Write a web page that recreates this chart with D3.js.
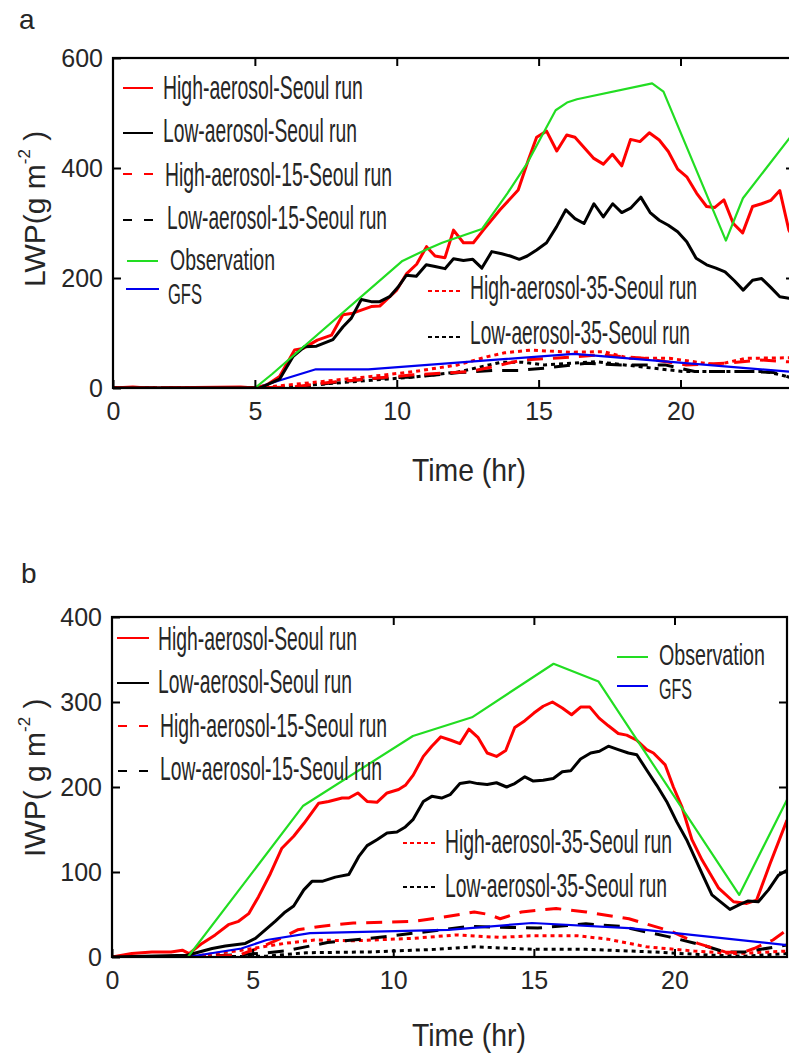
<!DOCTYPE html>
<html>
<head>
<meta charset="utf-8">
<script src="https://cdn.jsdelivr.net/npm/d3@7"></script>
<style>
  html, body { margin: 0; padding: 0; background: #fff; }
  svg { display: block; }
</style>
</head>
<body>
<svg id="chart" width="789" height="1057"></svg>
<script>
// ---------------- DATA ----------------
const xTicks = [0, 5, 10, 15, 20];
const lwpTicks = [0, 200, 400, 600];
const iwpTicks = [0, 100, 200, 300, 400];

const seriesLabels = [
  "High-aerosol-Seoul run", "Low-aerosol-Seoul run",
  "High-aerosol-15-Seoul run", "Low-aerosol-15-Seoul run",
  "Observation", "GFS",
  "High-aerosol-35-Seoul run", "Low-aerosol-35-Seoul run"
];

// Panel a : LWP (g m-2) vs time (hr), [hour, value]
const lwpHighSeoul = [[0,0],[0.7,2],[1.2,0],[4.5,2],[5.0,0],[5.4,5],[5.87,21],[6.4,69],[6.7,72],[7.2,87],[7.7,96],[8.1,133],[8.45,136],[9.1,148],[9.4,149],[10.0,178],[10.35,208],[10.7,225],[11.05,257],[11.35,240],[11.7,237],[12.0,287],[12.35,264],[12.7,264],[13.05,287],[13.64,324],[14.28,360],[14.64,415],[14.93,456],[15.28,467],[15.64,431],[15.99,460],[16.28,456],[16.93,418],[17.28,407],[17.6,425],[17.93,404],[18.24,452],[18.57,448],[18.9,464],[19.25,451],[19.57,430],[19.9,398],[20.22,384],[20.57,354],[20.92,330],[21.2,328],[21.53,342],[21.86,299],[22.19,282],[22.54,330],[22.86,335],[23.18,341],[23.5,359],[23.82,287],[24,272]];
const lwpLowSeoul = [[0,0],[5.17,0],[5.87,16],[6.34,57],[6.75,75],[7.17,76],[7.75,88],[8.1,111],[8.4,127],[8.75,161],[9.1,157],[9.4,157],[9.75,166],[10.04,183],[10.34,205],[10.69,203],[11.04,224],[11.35,221],[11.7,217],[12.0,235],[12.35,232],[12.68,234],[13.0,218],[13.35,248],[13.7,244],[14.0,240],[14.32,234],[14.6,240],[14.93,251],[15.28,264],[15.63,293],[15.96,324],[16.28,308],[16.6,299],[16.95,335],[17.28,311],[17.61,335],[17.93,319],[18.24,327],[18.6,347],[18.93,319],[19.25,305],[19.57,296],[19.9,284],[20.22,266],[20.55,236],[20.92,224],[21.25,218],[21.57,211],[21.9,195],[22.21,178],[22.54,196],[22.86,199],[23.18,183],[23.5,166],[23.82,163],[24,162]];
const lwpHigh15 = [[0,0],[5.0,0],[6.4,2],[7.6,10],[9.1,17],[10.6,24],[12.6,30],[13.5,40],[14.43,51],[15.8,55],[17.16,60],[18.7,54],[20.2,42],[21.57,45],[22.8,51],[24,47]];
const lwpLow15 = [[0,0],[5.0,0],[6.5,1],[7.8,10],[9.1,17],[10.6,20],[12.2,28],[13.4,32],[14.3,32],[15.2,36],[16.7,45],[17.9,42],[19.45,42],[20.5,30],[22.5,30],[23.3,28],[24,17]];
const lwpObs = [[5.0,0],[5.6,25],[10.2,231],[11.05,252],[11.6,264],[13.0,289],[13.9,354],[14.6,409],[15.6,505],[16.0,519],[16.35,525],[19.0,554],[19.4,539],[21.6,268],[22.2,345],[24,465]];
const lwpGFS = [[5.0,0],[7.15,34],[9.0,34],[16.25,62],[24,29]];
const lwpHigh35 = [[0,0],[5.0,0],[6.08,5],[7.6,13],[9.1,21],[10.63,30],[12.15,42],[13.2,57],[13.8,64],[14.73,69],[16.1,65],[17.3,66],[18.2,54],[19.6,54],[21.27,42],[22.3,54],[24,55]];
const lwpLow35 = [[0,0],[5.0,0],[6.1,2],[7.6,8],[9.1,14],[10.6,20],[12.15,29],[13.7,47],[14.4,47],[15.2,42],[17.0,48],[18.7,38],[20.1,30],[22.0,30],[23.0,30],[24,18]];

// Panel b : IWP (g m-2) vs time (hr)
const iwpHighSeoul = [[0,0],[0.7,4],[1.42,6],[2.1,6],[2.5,8],[2.74,4],[3.2,16],[3.67,26],[4.14,38],[4.5,42],[4.86,51],[5.21,71],[5.63,98],[6.04,128],[6.46,142],[6.82,157],[7.35,181],[7.7,183],[8.18,187],[8.42,187],[8.74,193],[9.07,183],[9.42,182],[9.78,193],[10.19,197],[10.43,202],[10.71,214],[11.07,236],[11.37,248],[11.69,259],[12.05,255],[12.37,251],[12.69,268],[13.02,258],[13.34,240],[13.67,236],[14.0,243],[14.32,270],[14.68,278],[15.0,287],[15.33,295],[15.66,300],[16.01,293],[16.34,285],[16.66,294],[16.99,294],[17.32,281],[17.65,272],[18.0,263],[18.3,261],[18.66,255],[19.01,244],[19.25,240],[19.67,226],[19.96,200],[20.26,177],[20.62,138],[20.98,114],[21.57,81],[22.1,65],[22.57,63],[22.92,67],[23.4,110],[24,161]];
const iwpLowSeoul = [[0,0],[2.67,2],[3.56,10],[4.03,13],[4.74,16],[5.1,22],[5.45,32],[5.8,42],[6.16,53],[6.46,60],[6.82,79],[7.11,89],[7.47,89],[7.94,94],[8.42,97],[8.77,118],[9.07,131],[9.42,138],[9.78,146],[10.13,147],[10.43,153],[10.71,162],[11.07,183],[11.37,189],[11.72,187],[12.02,191],[12.37,204],[12.71,206],[13.0,204],[13.34,203],[13.67,205],[14.03,200],[14.32,204],[14.68,212],[14.98,207],[15.33,208],[15.69,210],[16.01,218],[16.31,219],[16.66,233],[17.02,240],[17.33,242],[17.65,248],[18.0,244],[18.36,240],[18.66,238],[19.01,220],[19.37,202],[19.72,183],[20.08,159],[20.43,138],[20.98,98],[21.33,73],[21.97,56],[22.33,62],[22.62,66],[22.98,65],[23.34,79],[23.69,96],[24,102]];
const iwpHigh15 = [[0,0],[2.7,0],[4.5,2],[5.33,12],[6.0,22],[6.6,32],[7.4,36],[8.58,40],[10.73,42],[11.8,47],[12.88,53],[13.4,50],[13.8,45],[14.56,53],[15.79,57],[16.86,53],[18.38,45],[19.9,30],[20.83,16],[21.8,6],[22.4,5],[22.83,10],[23.5,20],[24,32]];
const iwpLow15 = [[0,0],[2.7,0],[4.7,3],[5.5,5],[6.13,7],[7.66,17],[9.19,22],[10.73,28],[12.72,36],[13.8,35],[15.14,34],[16.85,39],[18.08,36],[19.77,24],[21.0,14],[21.77,6],[22.5,6],[24,14]];
const iwpObs = [[2.7,0],[6.8,178],[10.7,260],[12.8,282],[15.7,345],[17.3,324],[22.3,73],[24,185]];
const iwpGFS = [[2.68,0],[4.6,10],[5.5,20],[7.04,28],[11.95,32],[14.93,40],[18.38,34],[24,14]];
const iwpHigh35 = [[0,0],[2.7,0],[4.6,8],[6.13,16],[7.2,20],[8.58,19],[10.73,22],[12.27,26],[13.8,23],[14.87,25],[16.55,25],[17.63,21],[19.0,12],[20.7,7],[22.2,4],[24,7]];
const iwpLow35 = [[0,0],[2.7,0],[5.5,1],[6.9,5],[9.2,6],[11.5,9],[12.88,12],[15.0,9],[16.86,9],[19.2,6],[21.4,2],[22.5,1],[24,4]];

// ---------------- STYLES ----------------
const RED = "#ff0000", BLACK = "#000000", GREEN = "#22dd22", BLUE = "#0000ee";
const TXT = "#262626";
const FONT = "'Liberation Sans Narrow','Liberation Sans',Arial,sans-serif";
const NUMFONT = "'Liberation Sans',Arial,sans-serif";

const styles = {
  high:   { color: RED,   width: 3,   dash: null },
  low:    { color: BLACK, width: 3,   dash: null },
  high15: { color: RED,   width: 3,   dash: "16,10" },
  low15:  { color: BLACK, width: 3,   dash: "16,10" },
  obs:    { color: GREEN, width: 2.2, dash: null },
  gfs:    { color: BLUE,  width: 2.2, dash: null },
  high35: { color: RED,   width: 3,   dash: "4,4" },
  low35:  { color: BLACK, width: 3,   dash: "4,4" }
};
const legendDash = { high15: "9,12", low15: "9,12", high35: "4,3", low35: "4,3" };

const svg = d3.select("#chart");

// place a text so that it spans exactly `width` px horizontally (squeezed font)
function fitText(parent, x, y, str, width, size, anchor) {
  const g = parent.append("g");
  const t = g.append("text")
    .attr("x", 0).attr("y", 0)
    .attr("font-family", FONT).attr("font-size", size)
    .attr("fill", TXT).text(str);
  const w = t.node().getComputedTextLength() || width;
  const sx = width / w;
  const x0 = anchor === "middle" ? x - width / 2 : x;
  g.attr("transform", `translate(${x0},${y}) scale(${sx},1)`);
  return g;
}

function drawPanel(p) {
  const x = d3.scaleLinear().domain([0, 24]).range([p.left, p.right]);
  const y = d3.scaleLinear().domain([0, p.ymax]).range([p.bottom, p.top]);
  const g = svg.append("g");

  const clipId = "clip" + p.name;
  svg.append("clipPath").attr("id", clipId).append("rect")
    .attr("x", p.left).attr("y", p.top - 2)
    .attr("width", p.right - p.left).attr("height", p.bottom - p.top + 2);

  const line = d3.line().x(d => x(d[0])).y(d => y(d[1]));
  const lines = g.append("g").attr("clip-path", `url(#${clipId})`);
  p.series.forEach(s => {
    const st = styles[s.key];
    lines.append("path")
      .datum(s.data)
      .attr("d", line)
      .attr("fill", "none")
      .attr("stroke", st.color)
      .attr("stroke-width", st.width)
      .attr("stroke-linejoin", "round")
      .attr("stroke-dasharray", st.dash);
  });

  // legends
  p.legend.forEach(L => {
    const st = styles[L.key];
    const lg = g.append("g");
    lg.append("line")
      .attr("x1", L.x1).attr("x2", L.x2).attr("y1", L.ly).attr("y2", L.ly)
      .attr("stroke", st.color).attr("stroke-width", 2)
      .attr("stroke-dasharray", legendDash[L.key] || null);
    fitText(lg, L.tx, L.ty, seriesLabels[L.idx], L.tw, L.fs || 34, "start");
  });

  // axes
  const axB = d3.axisBottom(x).tickValues(xTicks).tickSize(-8).tickSizeOuter(0).tickPadding(14);
  const axT = d3.axisTop(x).tickValues(p.topTicks).tickSize(-8).tickSizeOuter(0).tickFormat("");
  const axL = d3.axisLeft(y).tickValues(p.yTicks).tickSize(-8).tickSizeOuter(0).tickPadding(10);
  const axR = d3.axisRight(y).tickValues(p.rightTicks).tickSize(-8).tickSizeOuter(0).tickFormat("");

  const gB = g.append("g").attr("transform", `translate(0,${p.bottom})`).call(axB);
  const gT = g.append("g").attr("transform", `translate(0,${p.top})`).call(axT);
  const gL = g.append("g").attr("transform", `translate(${p.left},0)`).call(axL);
  const gR = g.append("g").attr("transform", `translate(${p.right},0)`).call(axR);
  [gB, gT, gL, gR].forEach(a => {
    a.select(".domain").remove();
    a.selectAll(".tick line").attr("stroke", "#000").attr("stroke-width", 2);
    a.selectAll(".tick text").attr("font-family", NUMFONT).attr("font-size", 25).attr("fill", TXT);
  });

  g.append("rect")
    .attr("x", p.left).attr("y", p.top)
    .attr("width", p.right - p.left).attr("height", p.bottom - p.top)
    .attr("fill", "none").attr("stroke", "#000").attr("stroke-width", 2.2);

  // x label
  fitText(g, p.xlabX, p.xlabY, "Time (hr)", 114, 32, "middle");

  // y label
  const yl = g.append("text")
    .attr("transform", `translate(45,${p.ylabY}) rotate(-90)`)
    .attr("font-family", NUMFONT).attr("font-size", 30).attr("fill", TXT);
  yl.append("tspan").text(p.ylabMain);
  yl.append("tspan").attr("font-size", 17).attr("dy", -15).text("-2");
  yl.append("tspan").attr("dy", 15).text(" )");

  // panel letter
  g.append("text")
    .attr("x", p.letterX).attr("y", p.letterY)
    .attr("font-family", NUMFONT).attr("font-size", 28).attr("fill", TXT)
    .text(p.name);
}

drawPanel({
  name: "a",
  left: 113, right: 794, top: 58, bottom: 388, ymax: 600,
  yTicks: lwpTicks, rightTicks: [200, 400], topTicks: [5, 10, 15, 20],
  series: [
    { key: "low35",  data: lwpLow35 },
    { key: "high35", data: lwpHigh35 },
    { key: "low15",  data: lwpLow15 },
    { key: "high15", data: lwpHigh15 },
    { key: "gfs",    data: lwpGFS },
    { key: "high",   data: lwpHighSeoul },
    { key: "low",    data: lwpLowSeoul },
    { key: "obs",    data: lwpObs }
  ],
  legend: [
    { key: "high",   idx: 0, x1: 123, x2: 153, ly: 88,  tx: 163, ty: 99,  tw: 200 },
    { key: "low",    idx: 1, x1: 123, x2: 153, ly: 133, tx: 163, ty: 142, tw: 194 },
    { key: "high15", idx: 2, x1: 123, x2: 153, ly: 174, tx: 165, ty: 186, tw: 227 },
    { key: "low15",  idx: 3, x1: 123, x2: 153, ly: 220, tx: 167, ty: 229, tw: 220 },
    { key: "obs",    idx: 4, x1: 127, x2: 158, ly: 261, tx: 170, ty: 270, tw: 105, fs: 30 },
    { key: "gfs",    idx: 5, x1: 126, x2: 159, ly: 289, tx: 168, ty: 304, tw: 34,  fs: 29 },
    { key: "high35", idx: 6, x1: 428, x2: 460, ly: 291, tx: 470, ty: 299, tw: 227 },
    { key: "low35",  idx: 7, x1: 428, x2: 460, ly: 337, tx: 470, ty: 344, tw: 220 }
  ],
  xlabX: 469, xlabY: 481,
  ylabY: 287, ylabMain: "LWP(g m",
  letterX: 19, letterY: 29
});

drawPanel({
  name: "b",
  left: 112, right: 787, top: 617, bottom: 957, ymax: 400,
  yTicks: iwpTicks, rightTicks: [100, 200, 300], topTicks: [10, 15, 20],
  series: [
    { key: "low35",  data: iwpLow35 },
    { key: "high35", data: iwpHigh35 },
    { key: "low15",  data: iwpLow15 },
    { key: "high15", data: iwpHigh15 },
    { key: "gfs",    data: iwpGFS },
    { key: "high",   data: iwpHighSeoul },
    { key: "low",    data: iwpLowSeoul },
    { key: "obs",    data: iwpObs }
  ],
  legend: [
    { key: "high",   idx: 0, x1: 117, x2: 149, ly: 638, tx: 158, ty: 650, tw: 199 },
    { key: "low",    idx: 1, x1: 117, x2: 149, ly: 683, tx: 158, ty: 693, tw: 194 },
    { key: "high15", idx: 2, x1: 118, x2: 150, ly: 726, tx: 160, ty: 737, tw: 227 },
    { key: "low15",  idx: 3, x1: 118, x2: 150, ly: 771, tx: 160, ty: 780, tw: 222 },
    { key: "obs",    idx: 4, x1: 617, x2: 648, ly: 657, tx: 659, ty: 665, tw: 106, fs: 30 },
    { key: "gfs",    idx: 5, x1: 617, x2: 648, ly: 686, tx: 659, ty: 699, tw: 33,  fs: 29 },
    { key: "high35", idx: 6, x1: 403, x2: 435, ly: 843, tx: 445, ty: 853, tw: 227 },
    { key: "low35",  idx: 7, x1: 403, x2: 435, ly: 887, tx: 445, ty: 897, tw: 222 }
  ],
  xlabX: 469, xlabY: 1046,
  ylabY: 857, ylabMain: "IWP( g m",
  letterX: 21, letterY: 583
});
</script>
</body>
</html>
